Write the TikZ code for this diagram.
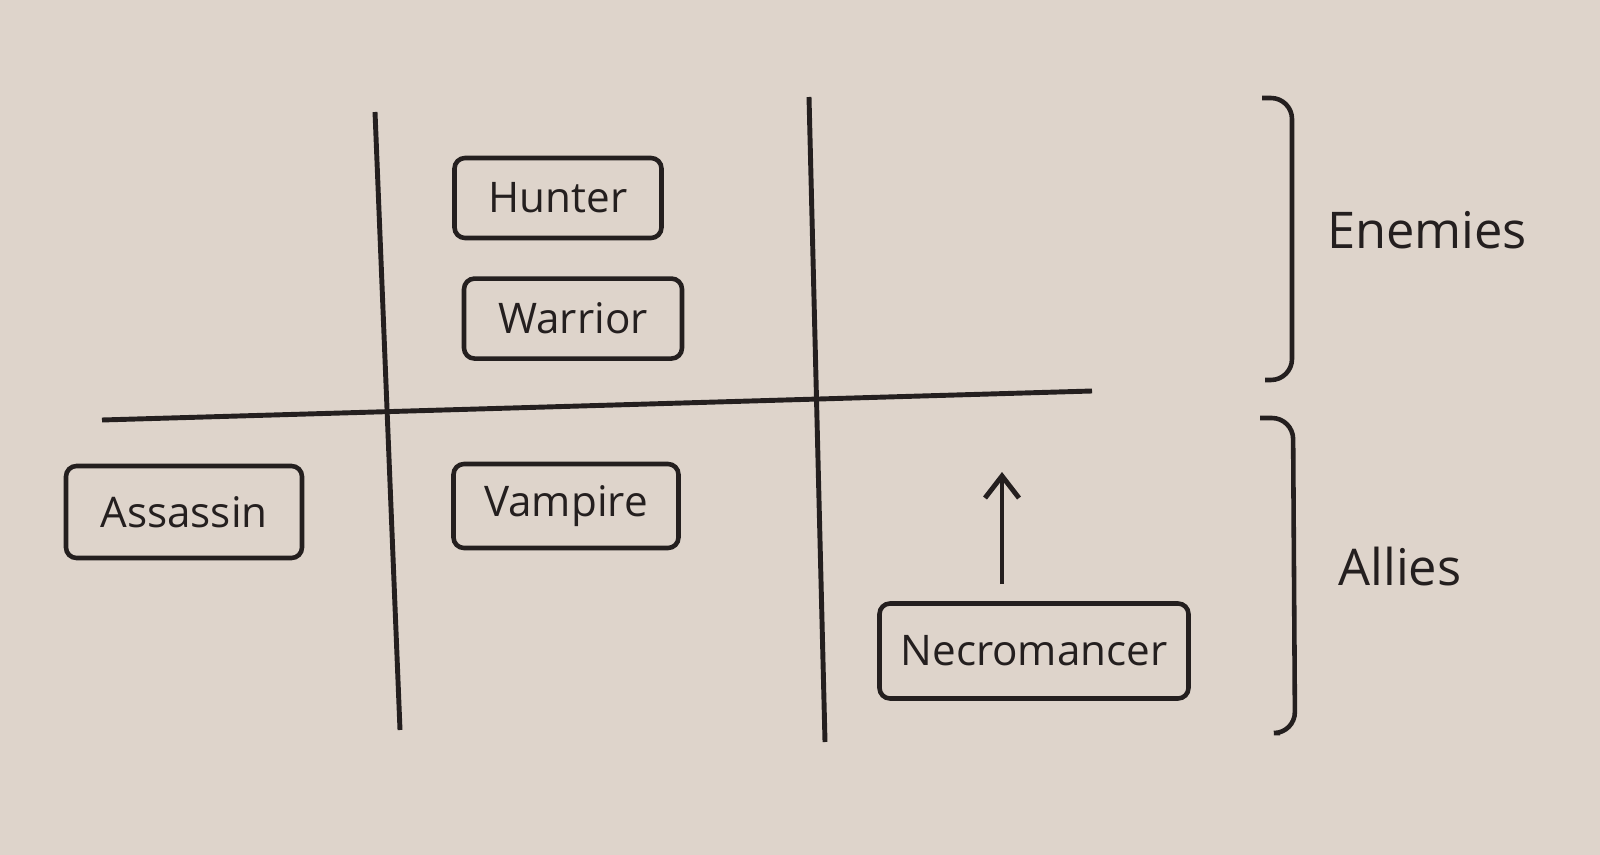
\documentclass[tikz,border=0pt]{standalone}
\usepackage{fontspec}
\setmainfont{Open Sans}
\usetikzlibrary{arrows.meta,positioning}
\definecolor{paper}{RGB}{222,212,203}
\definecolor{ink}{RGB}{36,31,31}
\tikzset{
  role/.style={draw=ink, rounded corners=3pt, line width=1.3pt, minimum height=0.8cm,
               font=\large, text=ink},
  axis/.style={draw=ink, line width=1.4pt},
  brk/.style={draw=ink, line width=1.3pt, rounded corners=6pt},
  upflow/.style={-{Straight Barb[length=2.2mm, width=3.4mm]}, line width=1.4pt, draw=ink},
  side/.style={font=\Large, text=ink},
}

\begin{document}
\begin{tikzpicture}
  \fill[paper] (0,0) rectangle (16,-8.55);
  % grid lines
  \draw[axis] (3.75,-1.12) -- (4.00,-7.30);
  \draw[axis] (8.09,-0.97) -- (8.25,-7.42);
  \draw[axis] (1.02,-4.20) -- (10.92,-3.91);
  % upper middle cell
  \node[role, minimum width=2.07cm] at (5.58,-1.98) (hunter) {Hunter};
  \node[role, minimum width=2.18cm, below=0.36cm of hunter, xshift=0.15cm] (warrior) {Warrior};
  % lower row
  \node[role, minimum width=2.36cm, minimum height=0.92cm] at (1.84,-5.12) (assassin) {Assassin};
  \node[role, minimum width=2.25cm, minimum height=0.84cm] at (5.66,-5.06) (vampire) {Vampire};
  \node[role, minimum width=3.09cm, minimum height=0.95cm] at (10.34,-6.51) (necro) {Necromancer};
  \coordinate (tip) at (10.02,-4.72);
  \draw[upflow, shorten <=0.17cm] (necro.north -| tip) -- (tip);
  % brackets
  \draw[brk] (12.62,-0.98) -- (12.92,-0.98) -- (12.92,-3.80) -- (12.65,-3.80);
  \draw[brk] (12.60,-4.18) -- (12.93,-4.18) -- (12.95,-7.33) -- (12.80,-7.33);
  \node[side] at (14.27,-2.30) (enemies) {Enemies};
  \node[side] at (14.00,-5.67) (allies) {Allies};
\end{tikzpicture}
\end{document}
